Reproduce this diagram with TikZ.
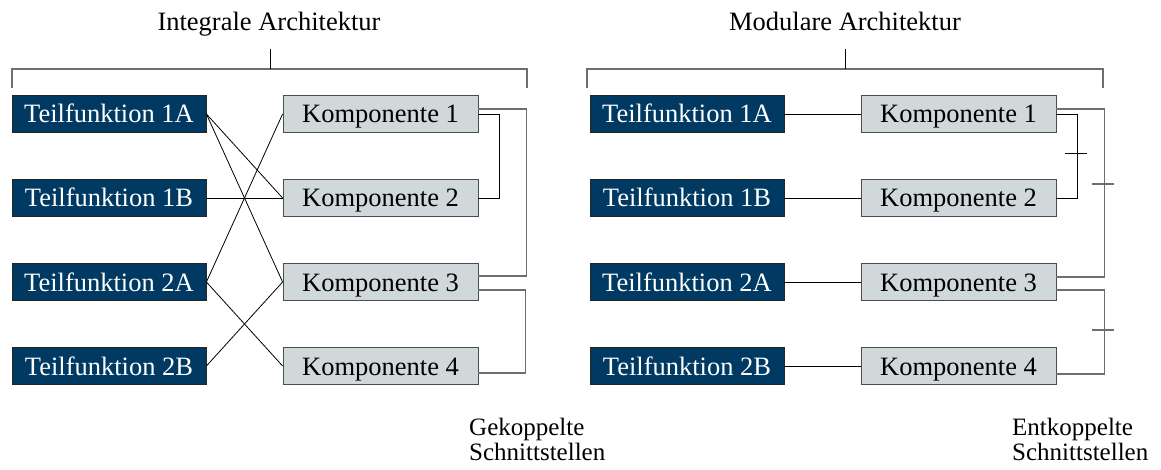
\documentclass[tikz,border=0pt]{standalone}
\usepackage{fontspec}
\setmainfont{Liberation Serif}
\definecolor{funcblue}{HTML}{003A63}
\definecolor{compgrey}{HTML}{D1D8DA}
\definecolor{linegrey}{HTML}{6E6E6E}
\begin{document}
\begin{tikzpicture}[x=1pt,y=-1pt,
  boxtext/.style={minimum height=37pt, inner sep=0pt, text height=18pt, text depth=0pt,
    font=\fontsize{26.5}{28}\selectfont},
  func/.style={boxtext, draw=black!85, line width=0.8pt, fill=funcblue, text=white,
    minimum width=194pt},
  comp/.style={boxtext, draw=black!70, line width=0.8pt, fill=compgrey, text=black,
    minimum width=195pt},
  link/.style={draw=black, line width=0.8pt},
  ifaceouter/.style={draw=linegrey, line width=1.5pt},
  ifaceinner/.style={draw=black, line width=0.9pt},
  bracket/.style={draw=linegrey, line width=1.2pt},
  title/.style={font=\fontsize{26.5}{28}\selectfont, anchor=base, inner sep=0pt},
  note/.style={font=\fontsize{25}{25}\selectfont, align=left, anchor=base west, inner sep=0pt}
]
\useasboundingbox (0,0) rectangle (1161,470);

% headings and brackets
\node[title] (hl) at (269,31) {Integrale Architektur};
\node[title] (hr) at (845,31) {Modulare Architektur};
\draw[bracket] (12,88) -- (12,69) -- (527,69) -- (527,88);
\draw[bracket] (587,88) -- (587,69) -- (1103,69) -- (1103,88);
\draw[black, line width=1pt] (270,49) -- (270,69);
\draw[black, line width=1pt] (845,49) -- (845,69);

% integral architecture
\node[func] (l1a) at (109,114) {Teilfunktion 1A};
\node[func] (l1b) at (109,198) {Teilfunktion 1B};
\node[func] (l2a) at (109,282) {Teilfunktion 2A};
\node[func] (l2b) at (109,366) {Teilfunktion 2B};
\node[comp] (lk1) at (380.5,114) {Komponente 1};
\node[comp] (lk2) at (380.5,198) {Komponente 2};
\node[comp] (lk3) at (380.5,282) {Komponente 3};
\node[comp] (lk4) at (380.5,366) {Komponente 4};

\draw[link] (l1a.east) -- (lk2.west);
\draw[link] (l1a.east) -- (lk3.west);
\draw[link] (l1b.east) -- (lk2.west);
\draw[link] (l2a.east) -- (lk1.west);
\draw[link] (l2a.east) -- (lk4.west);
\draw[link] (l2b.east) -- (lk3.west);

\draw[ifaceouter] ([yshift=5pt]lk1.east) -- ++(48,0) |- ([yshift=6pt]lk3.east);
\draw[ifaceinner] (lk1.east) -- ++(21,0) |- (lk2.east);
\draw[ifaceouter] ([yshift=-8pt]lk3.east) -- ++(47,0) |- ([yshift=-7pt]lk4.east);

% modular architecture
\node[func] (r1a) at (687,114) {Teilfunktion 1A};
\node[func] (r1b) at (687,198) {Teilfunktion 1B};
\node[func] (r2a) at (687,282) {Teilfunktion 2A};
\node[func] (r2b) at (687,366) {Teilfunktion 2B};
\node[comp] (rk1) at (958.5,114) {Komponente 1};
\node[comp] (rk2) at (958.5,198) {Komponente 2};
\node[comp] (rk3) at (958.5,282) {Komponente 3};
\node[comp] (rk4) at (958.5,366) {Komponente 4};

\draw[link] (r1a) -- (rk1);
\draw[link] (r1b) -- (rk2);
\draw[link] (r2a) -- (rk3);
\draw[link] (r2b) -- (rk4);

\draw[ifaceouter] ([yshift=5pt]rk1.east) -- ++(48,0) |- ([yshift=5pt]rk3.east);
\draw[ifaceinner] (rk1.east) -- ++(21,0) |- (rk2.east);
\draw[ifaceouter] ([yshift=-8pt]rk3.east) -- ++(48,0) |- ([yshift=-8pt]rk4.east);

% decoupling marks
\draw[ifaceinner] (1065,153) -- (1087,153);
\draw[ifaceouter, line width=1.2pt] (1092,184) -- (1114,184);
\draw[ifaceouter, line width=1.2pt] (1092,330) -- (1114,330);

% interface captions
\node[note] (nl1) at (469,435) {Gekoppelte};
\node[note] (nl2) at (469,460) {Schnittstellen};
\node[note] (nr1) at (1012,435) {Entkoppelte};
\node[note] (nr2) at (1012,460) {Schnittstellen};
\end{tikzpicture}
\end{document}
